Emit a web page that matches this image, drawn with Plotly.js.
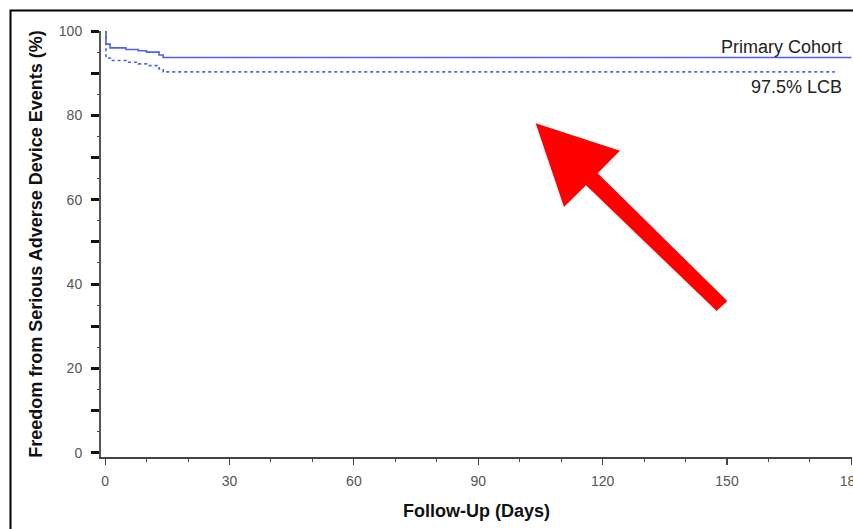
<!DOCTYPE html>
<html>
<head>
<meta charset="utf-8">
<script src="https://cdn.plot.ly/plotly-3.0.1.min.js"></script>
<style>
  html, body { margin: 0; padding: 0; background: #fff; overflow: hidden; }
  #chart { width: 853px; height: 529px; }
</style>
</head>
<body>
<div id="chart"></div>
<script>
// Kaplan-Meier estimate (step function) and its lower confidence bound
const cohortDays = [0, 0.2, 1.2, 5, 8, 10, 13, 14, 180];
const cohortFreedom = [100, 96.9, 96.0, 95.6, 95.3, 95.0, 94.3, 93.7, 93.7];
const lcbDays = [0, 0.2, 1.2, 5, 8, 10, 13, 14, 176];
const lcbFreedom = [100, 93.6, 93.0, 92.6, 92.2, 91.8, 91.0, 90.3, 90.3];

const seriesNames = ['Primary Cohort', '97.5% LCB'];
const xTicks = [0, 30, 60, 90, 120, 150, 180];
const yTicks = [0, 10, 20, 30, 40, 50, 60, 70, 80, 90, 100];
const yTickText = ['0', '', '20', '', '40', '', '60', '', '80', '', '100'];

const blue = '#4f5ff5';
const font = 'Liberation Sans, Arial, Helvetica, sans-serif';

const traces = [
  {
    x: cohortDays, y: cohortFreedom, name: seriesNames[0],
    type: 'scatter', mode: 'lines',
    line: { shape: 'hv', color: blue, width: 1.6 }
  },
  {
    x: lcbDays, y: lcbFreedom, name: seriesNames[1],
    type: 'scatter', mode: 'lines',
    line: { shape: 'hv', color: blue, width: 1.6, dash: 'dot' }
  }
];

// pixel helpers for paper coordinates (plot area: left 101, top 31, 751 x 426)
const PL = 101, PT = 31, PW = 751, PH = 426;
const px = v => (v - PL) / PW;
const py = v => 1 - (v - PT) / PH;

const arrowPts = [
  [535.7, 123.3], [620, 150.7], [597.7, 173.3], [727.3, 301],
  [716.7, 311], [586, 185.3], [564, 207]
];
const arrowPath = arrowPts.map((p, i) => (i ? 'L' : 'M') + px(p[0]).toFixed(4) + ',' + py(p[1]).toFixed(4)).join(' ') + ' Z';

const layout = {
  width: 853, height: 529,
  margin: { l: PL, r: 853 - PL - PW, t: PT, b: 529 - PT - PH },
  paper_bgcolor: '#fff', plot_bgcolor: '#fff',
  showlegend: false,
  font: { family: font, color: '#555', size: 14 },
  xaxis: {
    range: [-1, 180.15], showgrid: false, zeroline: false,
    showline: true, linecolor: '#444', linewidth: 1.5,
    tickmode: 'array', tickvals: xTicks, ticktext: xTicks.map(String),
    ticks: 'outside', ticklen: 6, tickwidth: 1.2, tickcolor: '#444',
    ticklabelstandoff: 5, ticklabeloverflow: 'allow',
    tickfont: { family: font, size: 14, color: '#555' },
    minor: { tickmode: 'linear', tick0: 0, dtick: 10, ticks: 'outside', ticklen: 3, tickwidth: 1, tickcolor: '#444' },
    title: { text: '<b>Follow-Up (Days)</b>', font: { family: font, size: 18, color: '#111' }, standoff: 16 }
  },
  yaxis: {
    range: [-1, 100], showgrid: false, zeroline: false,
    showline: true, linecolor: '#555', linewidth: 2,
    tickmode: 'array', tickvals: yTicks, ticktext: yTickText,
    ticks: 'outside', ticklen: 8, tickwidth: 3, tickcolor: '#111',
    ticklabelstandoff: 6,
    tickfont: { family: font, size: 14, color: '#555' },
    minor: { tickmode: 'linear', tick0: 0, dtick: 5, ticks: 'outside', ticklen: 2, tickwidth: 1, tickcolor: '#444' },
    title: { text: '<b>Freedom from Serious Adverse Device Events (%)</b>', font: { family: font, size: 18, color: '#111' }, standoff: 12 }
  },
  annotations: [
    { x: 178.1, y: 96.3, xref: 'x', yref: 'y', xanchor: 'right', yanchor: 'middle',
      text: seriesNames[0], showarrow: false, font: { family: font, size: 18, color: '#222' } },
    { x: 178.1, y: 86.8, xref: 'x', yref: 'y', xanchor: 'right', yanchor: 'middle',
      text: seriesNames[1], showarrow: false, font: { family: font, size: 18, color: '#222' } }
  ],
  shapes: [
    // outer frame
    { type: 'rect', xref: 'paper', yref: 'paper',
      x0: px(10.5), x1: px(900), y0: py(600), y1: py(10.5),
      line: { color: '#000', width: 2 }, fillcolor: 'rgba(0,0,0,0)', layer: 'above' },
    // red callout arrow
    { type: 'path', xref: 'paper', yref: 'paper', path: arrowPath,
      fillcolor: '#ff0000', line: { width: 0 }, layer: 'above' }
  ]
};

Plotly.newPlot('chart', traces, layout, { staticPlot: true, displayModeBar: false });
</script>
</body>
</html>
